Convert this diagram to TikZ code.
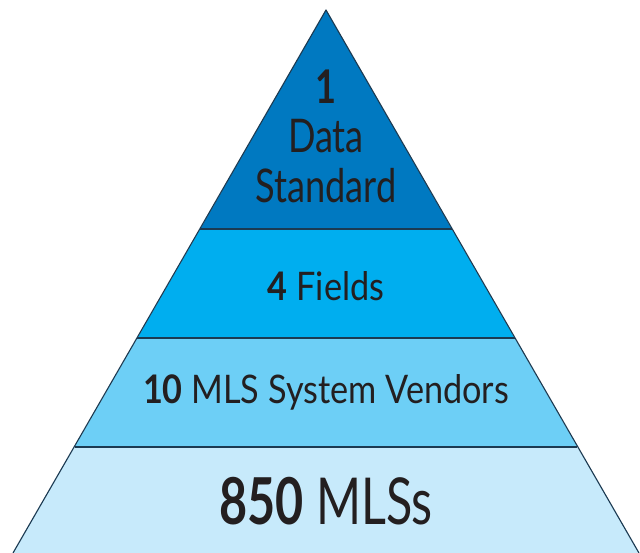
\documentclass[tikz,border=0pt]{standalone}
\usepackage{fontspec}
\setmainfont[FakeStretch=0.87]{Lato}
\newfontfamily\topface[FakeStretch=0.78]{Lato}
\newfontfamily\baseface[FakeStretch=0.75]{Lato}
\usetikzlibrary{positioning}
\definecolor{tierone}{HTML}{0079C1}
\definecolor{tiertwo}{HTML}{00AEEF}
\definecolor{tierthree}{HTML}{6DCFF6}
\definecolor{tierfour}{HTML}{C7EAFB}
\definecolor{inkdark}{HTML}{231F20}
\definecolor{edgeline}{HTML}{1B3A52}
\tikzset{
  tierlabel/.style={font=\fontsize{28}{32}\selectfont,text=inkdark,anchor=base,align=center,inner sep=0pt},
  toplabel/.style={tierlabel,anchor=south,font=\topface\fontsize{33}{35.2}\selectfont},
  tierline/.style={draw=edgeline,line width=0.8pt}
}

\begin{document}
\begin{tikzpicture}[x=0.025cm,y=-0.025cm]
\useasboundingbox (0,0) rectangle (640,553);
\fill[tierfour] (74.6,447) -- (577.4,447) -- (639,553) -- (13,553) -- cycle;
\fill[tierthree] (137.4,338) -- (514.6,338) -- (577.4,447) -- (74.6,447) -- cycle;
\fill[tiertwo] (200.2,229) -- (451.8,229) -- (514.6,338) -- (137.4,338) -- cycle;
\fill[tierone] (326,10) -- (451.8,229) -- (200.2,229) -- cycle;
\draw[tierline] (200.2,229) -- (451.8,229);
\draw[tierline] (137.4,338) -- (514.6,338);
\draw[tierline] (74.6,447) -- (577.4,447);
\draw[tierline,line join=round] (13,553) -- (326,10) -- (639,553);

\node[toplabel] (standard) at (326,203) {\textbf{1}\\Data\\Standard};
\node[tierlabel] (fields) at (326,300) {\textbf{4} Fields};
\node[tierlabel] (vendors) at (326,403) {\textbf{10} MLS System Vendors};
\node[tierlabel,font=\baseface\fontsize{46}{50}\selectfont] (mls) at (326,524) {\textbf{850} MLSs};
\end{tikzpicture}
\end{document}
